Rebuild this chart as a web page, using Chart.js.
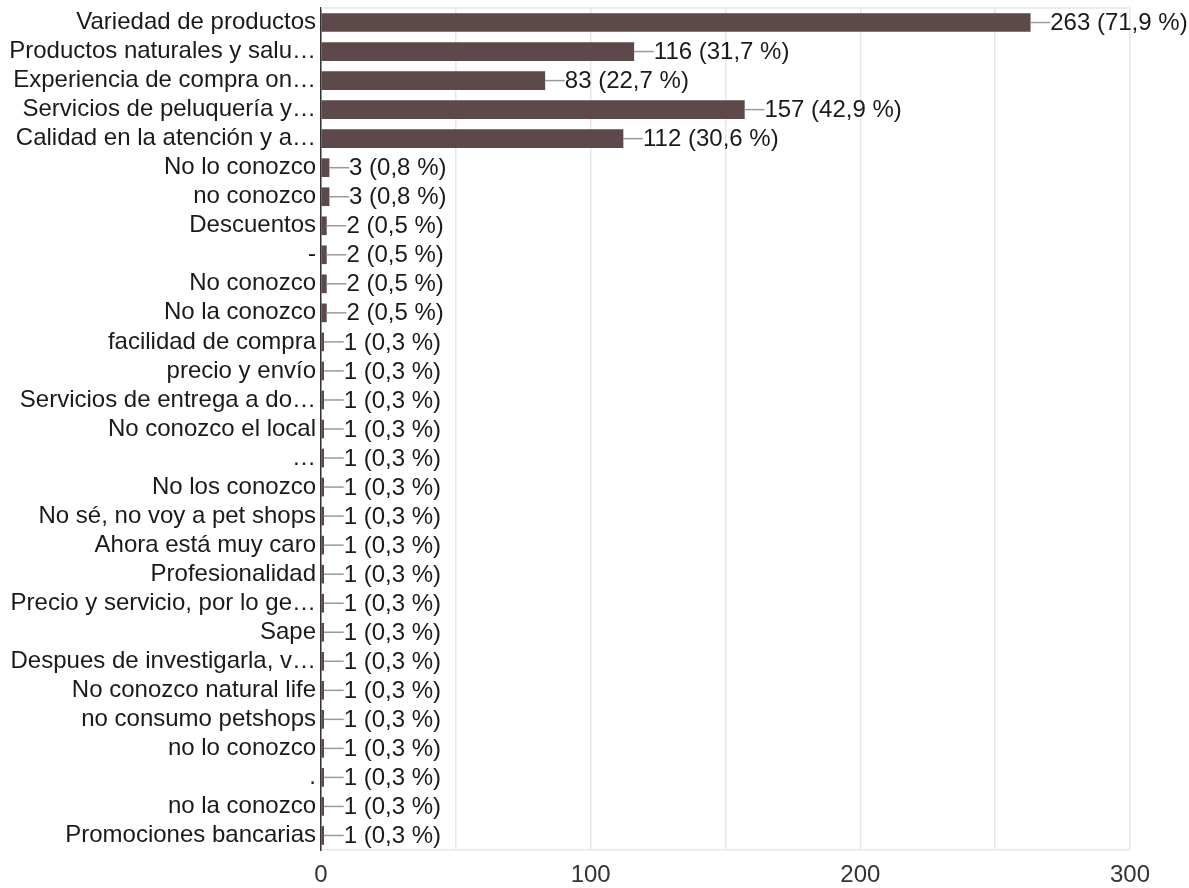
<!DOCTYPE html>
<html lang="es">
<head>
    <meta charset="UTF-8">
    <title>Respuestas</title>
    <script src="https://cdn.jsdelivr.net/npm/chart.js@4"></script>
    <style>
        body { margin: 0; background: #fff; }
        #wrap { width: 1189px; height: 888px; }
    </style>
</head>
<body>
    <div id="wrap"><canvas id="myChart"></canvas></div>
<script>
    var labels = [
        'Variedad de productos',
        'Productos naturales y salu\u2026',
        'Experiencia de compra on\u2026',
        'Servicios de peluquer\u00eda y\u2026',
        'Calidad en la atenci\u00f3n y a\u2026',
        'No lo conozco',
        'no conozco',
        'Descuentos',
        '-',
        'No conozco',
        'No la conozco',
        'facilidad de compra',
        'precio y env\u00edo',
        'Servicios de entrega a do\u2026',
        'No conozco el local',
        '\u2026',
        'No los conozco',
        'No s\u00e9, no voy a pet shops',
        'Ahora est\u00e1 muy caro',
        'Profesionalidad',
        'Precio y servicio, por lo ge\u2026',
        'Sape',
        'Despues de investigarla, v\u2026',
        'No conozco natural life',
        'no consumo petshops',
        'no lo conozco',
        '.',
        'no la conozco',
        'Promociones bancarias'
    ];
    var counts = [263, 116, 83, 157, 112, 3, 3, 2, 2, 2, 2,
                  1, 1, 1, 1, 1, 1, 1, 1, 1, 1, 1, 1, 1, 1, 1, 1, 1, 1];
    var totalResponses = 366;
    var xTicks = [0, 100, 200, 300];

    var font = 'Liberation Sans, Arial, Helvetica, sans-serif';
    var fontSize = 24;

    function pctText(v) {
        return v + ' (' + (v / totalResponses * 100).toFixed(1).replace('.', ',') + ' %)';
    }

    // value labels with the short leader line, plus the top border of the plot
    var valueLabels = {
        id: 'valueLabels',
        afterDatasetsDraw: function (chart) {
            var ctx = chart.ctx;
            var area = chart.chartArea;
            ctx.save();
            ctx.strokeStyle = '#e6e6e6';
            ctx.lineWidth = 1.5;
            ctx.beginPath();
            ctx.moveTo(area.left, area.top);
            ctx.lineTo(area.right, area.top);
            ctx.stroke();

            var meta = chart.getDatasetMeta(0);
            ctx.font = fontSize + 'px ' + font;
            ctx.textBaseline = 'middle';
            ctx.fillStyle = '#1a1a1a';
            meta.data.forEach(function (bar, i) {
                var x = bar.x;
                var y = bar.y;
                ctx.strokeStyle = '#9a9a9a';
                ctx.lineWidth = 1.5;
                ctx.beginPath();
                ctx.moveTo(x, y);
                ctx.lineTo(x + 20, y);
                ctx.stroke();
                ctx.fillText(pctText(counts[i]), x + 20, y + 1);
            });
            ctx.restore();
        }
    };

    var ctx = document.getElementById('myChart').getContext('2d');
    var chart = new Chart(ctx, {
        type: 'bar',
        data: {
            labels: labels,
            datasets: [{
                data: counts,
                backgroundColor: '#5d4949',
                barThickness: 18
            }]
        },
        options: {
            indexAxis: 'y',
            responsive: true,
            maintainAspectRatio: false,
            animation: false,
            layout: { padding: { top: 8, right: 59, bottom: 0, left: 0 } },
            plugins: {
                legend: { display: false },
                tooltip: { enabled: false }
            },
            scales: {
                x: {
                    min: 0,
                    max: 300,
                    afterFit: function (scale) { scale.height = 38; },
                    afterBuildTicks: function (scale) {
                        var t = [];
                        for (var v = 0; v <= 300; v += 50) t.push({ value: v });
                        scale.ticks = t;
                    },
                    grid: { color: '#e8e8e8', lineWidth: 1.5, drawTicks: false },
                    border: { display: true, color: '#e8e8e8', width: 1.5 },
                    ticks: {
                        padding: 11,
                        color: '#333',
                        maxRotation: 0,
                        autoSkip: false,
                        font: { family: font, size: fontSize },
                        callback: function (v) { return xTicks.indexOf(v) >= 0 ? String(v) : ''; }
                    }
                },
                y: {
                    afterFit: function (scale) {
                        scale.width = 321;
                        scale.paddingTop = 0;
                        scale.paddingBottom = 0;
                    },
                    grid: { display: false, drawTicks: false },
                    border: { display: true, color: '#333', width: 1.5 },
                    ticks: {
                        padding: 5,
                        color: '#1a1a1a',
                        autoSkip: false,
                        font: { family: font, size: fontSize }
                    }
                }
            }
        },
        plugins: [valueLabels]
    });
</script>
</body>
</html>
